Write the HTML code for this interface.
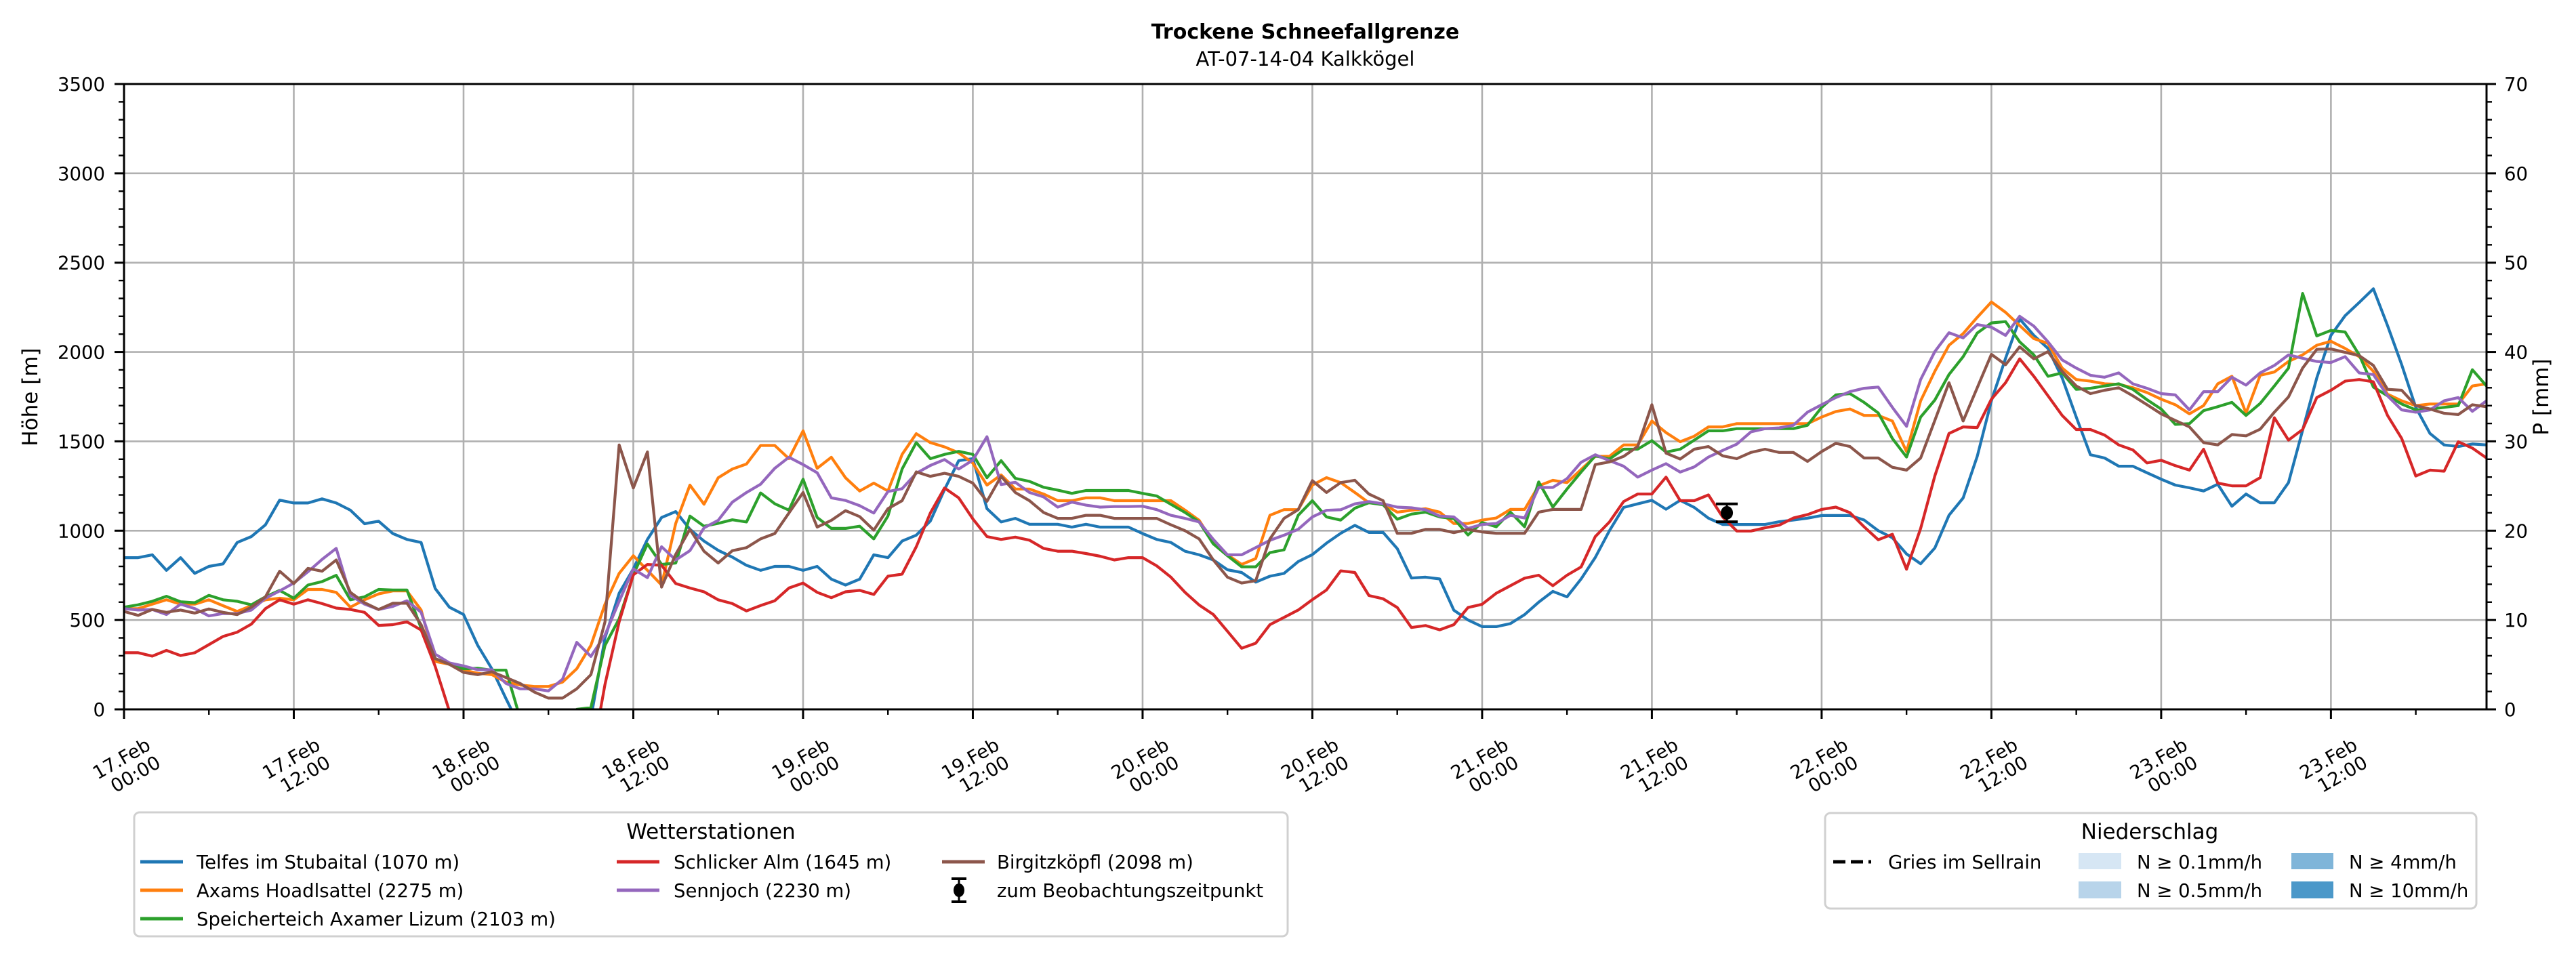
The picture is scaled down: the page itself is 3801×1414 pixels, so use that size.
<!DOCTYPE html>
<html><head><meta charset="utf-8"><title>Trockene Schneefallgrenze</title>
<style>
html,body{margin:0;padding:0;background:#fff;}
svg{display:block;font-family:"DejaVu Sans","Liberation Sans",sans-serif;}
</style></head>
<body>
<svg id="chart" xmlns="http://www.w3.org/2000/svg" width="3801" height="1414" viewBox="0 0 3801 1414">
<rect x="0" y="0" width="3801" height="1414" fill="#fff"/>
<text x="1926" y="57" text-anchor="middle" font-size="30" font-weight="bold">Trockene Schneefallgrenze</text>
<text x="1926" y="97" text-anchor="middle" font-size="29">AT-07-14-04 Kalkkögel</text>
<defs><clipPath id="plotclip"><rect x="183" y="124" width="3486" height="923"/></clipPath></defs>
<g id="grid"></g>
<g id="series" clip-path="url(#plotclip)"></g>
<g id="obs"></g>
<g id="axes"></g>
<text transform="translate(55,586) rotate(-90)" text-anchor="middle" font-size="31">Höhe [m]</text>
<text transform="translate(3760,586) rotate(-90)" text-anchor="middle" font-size="31">P [mm]</text>

<g>
<rect x="198" y="1199" width="1702" height="183" rx="8" fill="#fff" stroke="#d0d0d0" stroke-width="3"/>
<text x="1049" y="1238" text-anchor="middle" font-size="31">Wetterstationen</text>
<g><line x1="207" y1="1272" x2="270" y2="1272" stroke="#1f77b4" stroke-width="5"/><text x="290" y="1282" font-size="27.5">Telfes im Stubaital (1070 m)</text></g>
<g><line x1="207" y1="1314" x2="270" y2="1314" stroke="#ff7f0e" stroke-width="5"/><text x="290" y="1324" font-size="27.5">Axams Hoadlsattel (2275 m)</text></g>
<g><line x1="207" y1="1356" x2="270" y2="1356" stroke="#2ca02c" stroke-width="5"/><text x="290" y="1366" font-size="27.5">Speicherteich Axamer Lizum (2103 m)</text></g>
<g><line x1="910" y1="1272" x2="973" y2="1272" stroke="#d62728" stroke-width="5"/><text x="994" y="1282" font-size="27.5">Schlicker Alm (1645 m)</text></g>
<g><line x1="910" y1="1314" x2="973" y2="1314" stroke="#9467bd" stroke-width="5"/><text x="994" y="1324" font-size="27.5">Sennjoch (2230 m)</text></g>
<g><line x1="1390" y1="1272" x2="1453" y2="1272" stroke="#8c564b" stroke-width="5"/><text x="1471" y="1282" font-size="27.5">Birgitzköpfl (2098 m)</text></g>
<g><line x1="1415" y1="1297" x2="1415" y2="1331" stroke="#000" stroke-width="3"/><line x1="1404" y1="1297" x2="1426" y2="1297" stroke="#000" stroke-width="4"/><line x1="1404" y1="1331" x2="1426" y2="1331" stroke="#000" stroke-width="4"/><ellipse cx="1415" cy="1314" rx="8" ry="10" fill="#000"/><text x="1471" y="1324" font-size="27.5">zum Beobachtungszeitpunkt</text></g>
</g>

<g>
<rect x="2693" y="1200" width="961" height="141" rx="8" fill="#fff" stroke="#d0d0d0" stroke-width="3"/>
<text x="3172" y="1238" text-anchor="middle" font-size="31">Niederschlag</text>
<g><line x1="2705" y1="1272" x2="2761" y2="1272" stroke="#000" stroke-width="5" stroke-dasharray="18,8"/><text x="2786" y="1282" font-size="27.5">Gries im Sellrain</text></g>
<g><rect x="3067" y="1259" width="63" height="24" fill="#d6e6f4"/><text x="3153" y="1282" font-size="27.5">N ≥ 0.1mm/h</text></g>
<g><rect x="3067" y="1301" width="63" height="25" fill="#b8d4ea"/><text x="3153" y="1324" font-size="27.5">N ≥ 0.5mm/h</text></g>
<g><rect x="3381" y="1259" width="62" height="24" fill="#7fb5d9"/><text x="3466" y="1282" font-size="27.5">N ≥ 4mm/h</text></g>
<g><rect x="3381" y="1301" width="62" height="25" fill="#4b98c9"/><text x="3466" y="1324" font-size="27.5">N ≥ 10mm/h</text></g>
</g>
</svg>
<script>
const NS = "http://www.w3.org/2000/svg";
const hourTicks = [0,12,24,36,48,60,72,84,96,108,120,132,144,156];
const dayLabels = ["17.Feb","17.Feb","18.Feb","18.Feb","19.Feb","19.Feb","20.Feb","20.Feb","21.Feb","21.Feb","22.Feb","22.Feb","23.Feb","23.Feb"];
const timeLabels = ["00:00","12:00","00:00","12:00","00:00","12:00","00:00","12:00","00:00","12:00","00:00","12:00","00:00","12:00"];
const yTicks = [0,500,1000,1500,2000,2500,3000,3500];
const y2Ticks = [0,10,20,30,40,50,60,70];
const telfes = [849,849,865,778,849,761,800,814,934,967,
1033,1171,1155,1155,1178,1155,1115,1039,1053,984,
951,934,676,572,531,358,227,60,-100,-300,
-300,-300,-300,-50,400,650,786,951,1074,1107,
1008,942,890,852,806,778,800,800,778,800,
729,696,729,865,849,942,975,1054,1230,1392,
1403,1123,1049,1069,1036,1036,1036,1020,1036,1020,
1020,1020,984,951,934,885,865,836,781,766,
712,745,761,827,866,930,985,1030,990,990,
900,735,740,730,555,500,463,463,480,530,
600,660,630,730,850,1000,1130,1150,1170,1120,
1170,1130,1070,1035,1035,1035,1035,1050,1060,1070,
1085,1085,1085,1060,1000,960,870,815,903,1086,
1183,1416,1727,1965,2185,2093,2020,1855,1636,1425,
1407,1361,1361,1324,1288,1255,1240,1222,1260,1137,
1205,1156,1156,1269,1562,1855,2093,2203,2277,2354,
2148,1929,1690,1544,1480,1471,1485,1480];
const axams = [564,564,589,613,589,589,613,580,548,580,
613,622,613,671,671,655,572,613,646,663,
663,556,268,252,219,202,194,153,136,128,
128,153,227,358,589,761,860,778,696,1041,
1255,1148,1296,1345,1373,1477,1477,1403,1559,1349,
1411,1296,1222,1266,1222,1427,1543,1493,1469,1436,
1378,1255,1312,1233,1233,1205,1168,1168,1184,1184,
1168,1168,1168,1168,1168,1115,1058,934,865,811,
844,1086,1118,1118,1255,1297,1269,1214,1156,1150,
1104,1114,1123,1104,1040,1040,1059,1071,1119,1119,
1251,1282,1269,1342,1416,1416,1480,1480,1614,1549,
1498,1529,1581,1581,1599,1599,1599,1599,1599,1599,
1636,1667,1681,1645,1645,1614,1443,1727,1892,2038,
2103,2194,2280,2222,2148,2075,2048,1910,1846,1837,
1822,1819,1800,1773,1736,1705,1654,1700,1822,1864,
1658,1870,1888,1947,1984,2038,2060,2020,1974,1892,
1764,1727,1700,1709,1709,1709,1810,1822];
const speicherteich = [572,585,605,633,602,597,638,613,605,585,
630,666,622,696,715,750,613,630,671,668,
668,454,284,252,227,230,219,219,-50,-300,
-300,-300,0,10,358,507,753,926,811,819,
1082,1025,1041,1061,1049,1211,1151,1115,1288,1074,
1013,1013,1025,954,1082,1345,1493,1403,1427,1444,
1427,1296,1392,1293,1276,1243,1227,1209,1225,1225,
1225,1225,1209,1194,1148,1102,1049,926,860,798,
798,877,893,1086,1168,1077,1059,1126,1156,1145,
1064,1093,1104,1077,1068,976,1046,1022,1104,1022,
1273,1132,1233,1328,1419,1401,1456,1456,1504,1440,
1456,1507,1559,1559,1571,1571,1571,1571,1571,1590,
1690,1760,1767,1718,1659,1516,1412,1636,1731,1874,
1974,2106,2163,2170,2057,1984,1864,1883,1791,1797,
1810,1822,1791,1733,1681,1595,1599,1672,1694,1718,
1645,1712,1810,1910,2328,2090,2121,2112,1984,1804,
1755,1709,1676,1681,1690,1700,1901,1810];
const schlicker = [317,317,298,330,301,317,362,408,432,477,
564,613,589,613,592,567,559,543,470,474,
490,444,240,-10,-300,-300,-300,-300,-300,-300,
-300,-300,-300,-300,140,490,753,811,806,704,
679,658,613,592,551,581,608,679,707,655,
625,658,666,643,745,757,910,1099,1239,1184,
1066,967,951,964,947,901,885,885,872,857,
836,849,849,803,740,655,584,531,437,342,
370,474,515,556,614,668,775,766,637,619,
570,458,469,445,474,570,588,650,692,734,
751,692,751,797,967,1049,1163,1205,1205,1300,
1168,1168,1200,1077,998,998,1016,1031,1071,1090,
1119,1132,1101,1022,949,980,784,1013,1306,1544,
1581,1577,1736,1828,1962,1864,1755,1645,1566,1566,
1535,1480,1452,1379,1394,1364,1339,1456,1266,1251,
1251,1297,1632,1507,1566,1745,1786,1837,1846,1833,
1645,1516,1306,1339,1333,1498,1462,1407];
const sennjoch = [564,556,559,531,589,564,523,536,536,556,
622,663,707,770,839,901,638,589,559,576,
608,543,309,260,243,222,222,145,115,115,
103,169,375,296,416,605,786,737,910,836,
888,1016,1058,1160,1214,1260,1349,1411,1370,1324,
1184,1169,1140,1099,1219,1235,1321,1365,1398,1345,
1395,1526,1258,1271,1214,1189,1132,1160,1143,1132,
1135,1135,1137,1118,1086,1069,1049,951,865,865,
905,946,975,1008,1077,1114,1117,1150,1163,1150,
1132,1128,1117,1082,1077,1013,1035,1040,1086,1071,
1242,1242,1291,1383,1425,1392,1361,1300,1339,1375,
1328,1357,1412,1449,1484,1553,1571,1575,1590,1663,
1705,1745,1778,1797,1804,1690,1584,1846,2002,2108,
2079,2154,2139,2093,2200,2145,2057,1956,1910,1870,
1859,1883,1822,1797,1767,1760,1676,1778,1778,1859,
1815,1883,1925,1984,1965,1947,1941,1974,1883,1874,
1755,1676,1663,1676,1727,1745,1668,1727];
const birgitzkoepfl = [548,526,559,543,556,539,562,543,530,572,
630,773,704,789,773,836,655,597,559,594,
594,474,284,252,207,194,210,178,145,97,
63,63,115,194,490,1480,1239,1441,684,868,
1008,885,819,888,905,954,984,1099,1214,1020,
1058,1112,1079,1003,1123,1168,1329,1304,1321,1304,
1266,1164,1304,1214,1168,1102,1069,1069,1086,1086,
1069,1069,1069,1069,1033,1000,954,836,740,707,
720,954,1069,1118,1280,1214,1269,1282,1205,1168,
985,985,1007,1007,989,1007,993,985,985,985,
1104,1119,1119,1119,1370,1385,1416,1471,1705,1434,
1401,1456,1471,1419,1403,1438,1456,1438,1438,1388,
1443,1489,1471,1407,1407,1355,1339,1407,1617,1828,
1614,1800,1987,1929,2029,1962,2002,1892,1810,1767,
1786,1800,1755,1705,1654,1617,1581,1493,1480,1538,
1531,1568,1663,1749,1910,2015,2017,1998,1980,1925,
1791,1786,1700,1681,1657,1650,1705,1694];
const obsHour = [113.3];
const obsValue = [1100];
const obsErr = [50];

const X0 = 183, X1 = 3669, Y0 = 1047, Y1 = 124, HMAX = 167, VMAX = 3500, PMAX = 70;
function xs(h){ return X0 + h * (X1 - X0) / HMAX; }
function ys(v){ return Y0 - v * (Y0 - Y1) / VMAX; }
function ys2(p){ return Y0 - p * (Y0 - Y1) / PMAX; }
function mk(tag, attrs, parent){
  const e = document.createElementNS(NS, tag);
  for (const k in attrs) e.setAttribute(k, attrs[k]);
  parent.appendChild(e);
  return e;
}
const grid = document.getElementById('grid');
const axes = document.getElementById('axes');
const seriesG = document.getElementById('series');
const obsG = document.getElementById('obs');

hourTicks.forEach(h => {
  if (h > 0) {
    const gl = mk('line', {x1: xs(h), x2: xs(h), y1: Y1, y2: Y0, stroke: '#b0b0b0', 'stroke-width': 2.6}, grid);
    
    
  }
});
yTicks.forEach(v => {
  if (v > 0) {
    const gl = mk('line', {x1: X0, x2: X1, y1: ys(v), y2: ys(v), stroke: '#b0b0b0', 'stroke-width': 2.6}, grid);
    
    
  }
});

const seriesList = [
  [telfes, '#1f77b4', 'line-telfes'],
  [axams, '#ff7f0e', 'line-axams'],
  [speicherteich, '#2ca02c', 'line-speicherteich'],
  [schlicker, '#d62728', 'line-schlicker-alm'],
  [sennjoch, '#9467bd', 'line-sennjoch'],
  [birgitzkoepfl, '#8c564b', 'line-birgitzkoepfl']
];
seriesList.forEach(s => {
  const d = s[0].map((v, i) => (i ? 'L' : 'M') + xs(i).toFixed(1) + ',' + ys(v).toFixed(1)).join('');
  const p = mk('path', {d: d, fill: 'none', stroke: s[1], 'stroke-width': 4.2, 'stroke-linejoin': 'round'}, seriesG);
  
  
});

obsHour.forEach((h, i) => {
  const cx = xs(h), cy = ys(obsValue[i]), yt = ys(obsValue[i] + obsErr[i]), yb = ys(obsValue[i] - obsErr[i]);
  const g = mk('g', {}, obsG);
  
  
  mk('line', {x1: cx, x2: cx, y1: yt, y2: yb, stroke: '#000', 'stroke-width': 3}, g);
  mk('line', {x1: cx - 16, x2: cx + 16, y1: yt, y2: yt, stroke: '#000', 'stroke-width': 4}, g);
  mk('line', {x1: cx - 16, x2: cx + 16, y1: yb, y2: yb, stroke: '#000', 'stroke-width': 4}, g);
  mk('ellipse', {cx: cx, cy: cy, rx: 9, ry: 10, fill: '#000'}, g);
});

// spines
mk('rect', {x: X0, y: Y1, width: X1 - X0, height: Y0 - Y1, fill: 'none', stroke: '#000', 'stroke-width': 3}, axes);
// y ticks left
yTicks.forEach(v => {
  mk('line', {x1: X0 - 14, x2: X0, y1: ys(v), y2: ys(v), stroke: '#000', 'stroke-width': 3}, axes);
  const t = mk('text', {x: X0 - 28, y: ys(v) + 10, 'text-anchor': 'end', 'font-size': 27.5}, axes);
  t.textContent = v;
  
  
});
for (let v = 100; v < VMAX; v += 100) {
  if (v % 500) mk('line', {x1: X0 - 8, x2: X0, y1: ys(v), y2: ys(v), stroke: '#000', 'stroke-width': 2.4}, axes);
}
// y2 ticks right
y2Ticks.forEach(p => {
  mk('line', {x1: X1, x2: X1 + 14, y1: ys2(p), y2: ys2(p), stroke: '#000', 'stroke-width': 3}, axes);
  const t = mk('text', {x: X1 + 26, y: ys2(p) + 10, 'text-anchor': 'start', 'font-size': 27.5}, axes);
  t.textContent = p;
  
  
});
for (let p = 2; p < PMAX; p += 2) {
  if (p % 10) mk('line', {x1: X1, x2: X1 + 8, y1: ys2(p), y2: ys2(p), stroke: '#000', 'stroke-width': 2.4}, axes);
}
// x ticks
hourTicks.forEach((h, i) => {
  const x = xs(h);
  mk('line', {x1: x, x2: x, y1: Y0, y2: Y0 + 14, stroke: '#000', 'stroke-width': 3}, axes);
  mk('line', {x1: xs(h + 6), x2: xs(h + 6), y1: Y0, y2: Y0 + 8, stroke: '#000', 'stroke-width': 2.4}, axes);
  const t1 = mk('text', {x: x + 41, y: 1105, 'text-anchor': 'end', 'font-size': 27.5, transform: 'rotate(-30 ' + (x + 41) + ' 1105)'}, axes);
  t1.textContent = dayLabels[i];
  
  
  const t2 = mk('text', {x: x + 56, y: 1131, 'text-anchor': 'end', 'font-size': 27.5, transform: 'rotate(-30 ' + (x + 56) + ' 1131)'}, axes);
  t2.textContent = timeLabels[i];
  
  
});
</script>
</body></html>
